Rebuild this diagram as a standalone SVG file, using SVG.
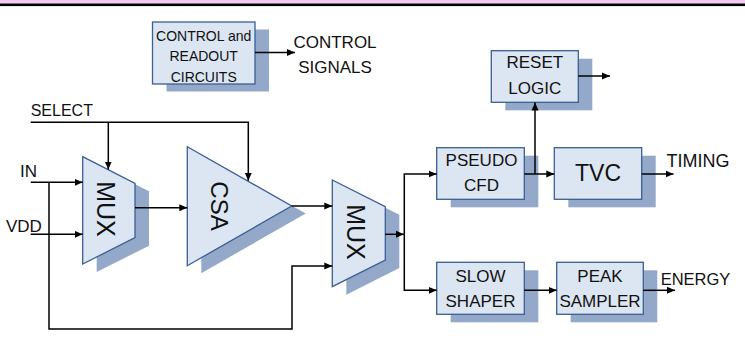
<svg xmlns="http://www.w3.org/2000/svg" width="745" height="342" viewBox="0 0 745 342">
<defs>
<marker id="ah" markerUnits="userSpaceOnUse" markerWidth="9" markerHeight="8" refX="8" refY="4" orient="auto">
<path d="M0,0.5 L8,4 L0,7.5 z" fill="#000"/>
</marker>
<style>
.box{fill:#dce6f2;stroke:#3a5f94;stroke-width:1.3}
.sh{fill:#94a8c9}
.wire{fill:none;stroke:#000;stroke-width:1.5}
.arr{marker-end:url(#ah)}
text{font-family:"Liberation Sans",Arial,sans-serif;fill:#111}
.bt{font-size:17px;text-anchor:middle}
.lb{font-size:17px}
</style>
</defs>
<rect x="0" y="0" width="745" height="3.5" fill="#f8c8f8"/>
<rect x="0" y="3.5" width="745" height="2.6" fill="#000"/>

<g id="control">
<rect class="sh" x="166.5" y="29.5" width="102.5" height="62"/>
<rect class="box" x="152.5" y="22" width="102.5" height="62"/>
<text x="203.7" y="40.5" style="font-size:14px;text-anchor:middle">CONTROL and</text>
<text x="203.7" y="61" style="font-size:14px;text-anchor:middle">READOUT</text>
<text x="203.7" y="81.5" style="font-size:14px;text-anchor:middle">CIRCUITS</text>
</g>

<g id="mux1">
<polygon class="sh" points="96.7,164.7 149,191.3 149,245.7 96.7,272"/>
<polygon class="box" points="82.7,156.7 135,183.3 135,237.7 82.7,264"/>
<text transform="translate(106,209) rotate(90)" y="9" style="font-size:25px;text-anchor:middle">MUX</text>
</g>

<g id="csa">
<polygon class="sh" points="201.3,154.2 305.7,213.5 201.3,273.2"/>
<polygon class="box" points="187.3,146.7 291.7,206 187.3,265.7"/>
<text transform="translate(219,206) rotate(90)" y="8.5" style="font-size:24px;text-anchor:middle">CSA</text>
</g>

<g id="mux2">
<polygon class="sh" points="346.3,188 399.3,214.7 399.3,268 346.3,294.7"/>
<polygon class="box" points="332.3,180 385.3,206.7 385.3,260 332.3,286.7"/>
<text transform="translate(356,232) rotate(90)" y="9" style="font-size:25px;text-anchor:middle">MUX</text>
</g>

<g id="pseudo-cfd">
<rect class="sh" x="450.7" y="155.7" width="87.6" height="51.6"/>
<rect class="box" x="436.7" y="147.7" width="87.6" height="51.6"/>
<text class="bt" x="481.5" y="165.7">PSEUDO</text>
<text class="bt" x="481.5" y="190.7">CFD</text>
</g>

<g id="tvc">
<rect class="sh" x="568.3" y="155.7" width="87.4" height="51.6"/>
<rect class="box" x="554.3" y="147.7" width="87.4" height="51.6"/>
<text x="598" y="181" style="font-size:23px;text-anchor:middle">TVC</text>
</g>

<g id="reset-logic">
<rect class="sh" x="505.3" y="58.7" width="87" height="51.6"/>
<rect class="box" x="491.3" y="50.7" width="87" height="51.6"/>
<text class="bt" x="534.8" y="67.7">RESET</text>
<text class="bt" x="534.8" y="93.5">LOGIC</text>
</g>

<g id="slow-shaper">
<rect class="sh" x="450.7" y="270.3" width="87.6" height="52"/>
<rect class="box" x="436.7" y="262.3" width="87.6" height="52"/>
<text class="bt" x="480.5" y="282.3">SLOW</text>
<text class="bt" x="480.5" y="307.3">SHAPER</text>
</g>

<g id="peak-sampler">
<rect class="sh" x="570.7" y="270.3" width="86.6" height="52"/>
<rect class="box" x="556.7" y="262.3" width="86.6" height="52"/>
<text class="bt" x="600" y="282.3">PEAK</text>
<text class="bt" x="600" y="307.3">SAMPLER</text>
</g>

<g id="connectors">
<path class="wire arr" d="M255,52.5 H295"/>
<path class="wire arr" d="M30.7,122.3 H248.3 V180.8"/>
<path class="wire arr" d="M108.3,122.3 V169.5"/>
<path class="wire arr" d="M30.7,182.3 H82.7"/>
<path class="wire arr" d="M30.7,234.3 H82.7"/>
<path class="wire arr" d="M49,182.3 V329 H292 V266 H332.3"/>
<path class="wire arr" d="M135,207.8 H187.3"/>
<path class="wire arr" d="M291.7,206 H332.3"/>
<path class="wire arr" d="M385.3,234.3 H404"/>
<path class="wire arr" d="M404.3,234.3 V174 H436.7"/>
<path class="wire arr" d="M404.3,234.3 V290.3 H436.7"/>
<path class="wire arr" d="M524.3,174 H554.3"/>
<path class="wire arr" d="M535,174 V102.5"/>
<path class="wire arr" d="M578.3,76 H610"/>
<path class="wire arr" d="M641.7,174 H673.5"/>
<path class="wire arr" d="M524.3,290.3 H556.7"/>
<path class="wire arr" d="M643.3,290.3 H675"/>
</g>

<g id="labels">
<text x="335" y="48" style="font-size:17px;text-anchor:middle">CONTROL</text>
<text x="335" y="72.7" style="font-size:17px;text-anchor:middle">SIGNALS</text>
<text class="lb" x="30.7" y="116" style="font-size:16px">SELECT</text>
<text class="lb" x="20" y="177">IN</text>
<text class="lb" x="6" y="231.5">VDD</text>
<text class="lb" x="666.5" y="167.3" style="font-size:18px">TIMING</text>
<text class="lb" x="660.7" y="285" style="font-size:16.5px">ENERGY</text>
</g>
</svg>
